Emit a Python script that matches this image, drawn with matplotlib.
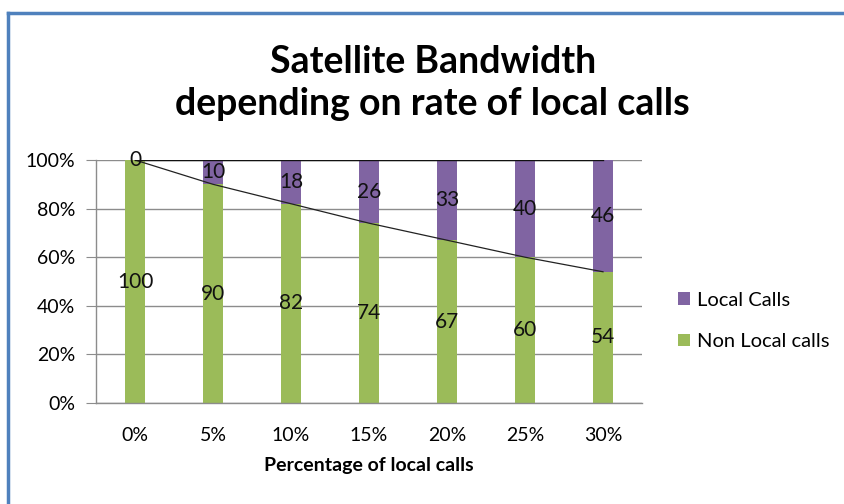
import matplotlib
matplotlib.use("Agg")
import matplotlib.pyplot as plt
from matplotlib.lines import Line2D
import numpy as np

categories = ["0%", "5%", "10%", "15%", "20%", "25%", "30%"]
local_calls = [0, 10, 18, 26, 33, 40, 46]
non_local_calls = [100, 90, 82, 74, 67, 60, 54]
y_ticks = [0, 20, 40, 60, 80, 100]
y_tick_labels = ["0%", "20%", "40%", "60%", "80%", "100%"]

GREEN = "#9BBB59"
PURPLE = "#8064A2"
GRID = "#8C8C8C"
FONT = "Lato"

fig = plt.figure(figsize=(8.45, 5.04), dpi=100)
ax = fig.add_axes([96/845, 101/504, 546/845, 243/504])

x = np.arange(len(categories))
tot = np.array(local_calls) + np.array(non_local_calls)
nl_pct = np.array(non_local_calls) / tot * 100
lc_pct = np.array(local_calls) / tot * 100

w = 0.245
ax.bar(x, nl_pct, width=w, color=GREEN, label="Non Local calls", zorder=2)
ax.bar(x, lc_pct, width=w, bottom=nl_pct, color=PURPLE, label="Local Calls", zorder=2)

# series lines
ax.plot(x, nl_pct, color="#222222", lw=0.9, zorder=3)
ax.plot(x, nl_pct + lc_pct, color="#111111", lw=1.0, zorder=3)

for i in range(len(x)):
    ax.text(x[i], nl_pct[i] / 2, str(non_local_calls[i]), ha="center", va="center",
            fontsize=15, family=FONT, color="#111111", zorder=4)
    ax.text(x[i], nl_pct[i] + lc_pct[i] / 2, str(local_calls[i]), ha="center", va="center",
            fontsize=15, family=FONT, color="#111111", zorder=4)

ax.set_xlim(-0.5, 6.5)
ax.set_ylim(0, 100)
ax.set_yticks(y_ticks)
ax.set_yticklabels(y_tick_labels, family=FONT, fontsize=14)
ax.set_xticks(x)
ax.set_xticklabels(categories, family=FONT, fontsize=14)
ax.tick_params(axis="x", length=0, pad=17)
ax.tick_params(axis="y", length=7, color=GRID, pad=8)
ax.yaxis.grid(True, color=GRID, lw=1.0, zorder=0)
ax.set_axisbelow(True)
for s in ["top", "right"]:
    ax.spines[s].set_visible(False)
for s in ["left", "bottom"]:
    ax.spines[s].set_color(GRID)
    ax.spines[s].set_linewidth(1.0)

ax.set_xlabel("Percentage of local calls", family=FONT, fontsize=14, fontweight="bold", labelpad=10)

fig.text(0.512, 1 - 83/504, "Satellite Bandwidth\ndepending on rate of local calls", ha="center", va="center",
         fontsize=27, fontweight="bold", family=FONT, linespacing=1.3)

handles, labels = ax.get_legend_handles_labels()
leg = fig.legend(handles[::-1], labels[::-1], loc="center left", bbox_to_anchor=(660/845, 1 - 321/504),
                 frameon=False, prop={"family": FONT, "size": 14.5}, handlelength=0.6, handleheight=0.6,
                 handletextpad=0.35, labelspacing=1.2)

# blue border (top and left)
fig.add_artist(Line2D([8/845, 1.0], [1 - 13/504, 1 - 13/504], color="#4F81BD", lw=2.5, transform=fig.transFigure))
fig.add_artist(Line2D([8/845, 8/845], [0, 1 - 13/504], color="#4F81BD", lw=2.5, transform=fig.transFigure))

fig.savefig("out.png", dpi=100)
